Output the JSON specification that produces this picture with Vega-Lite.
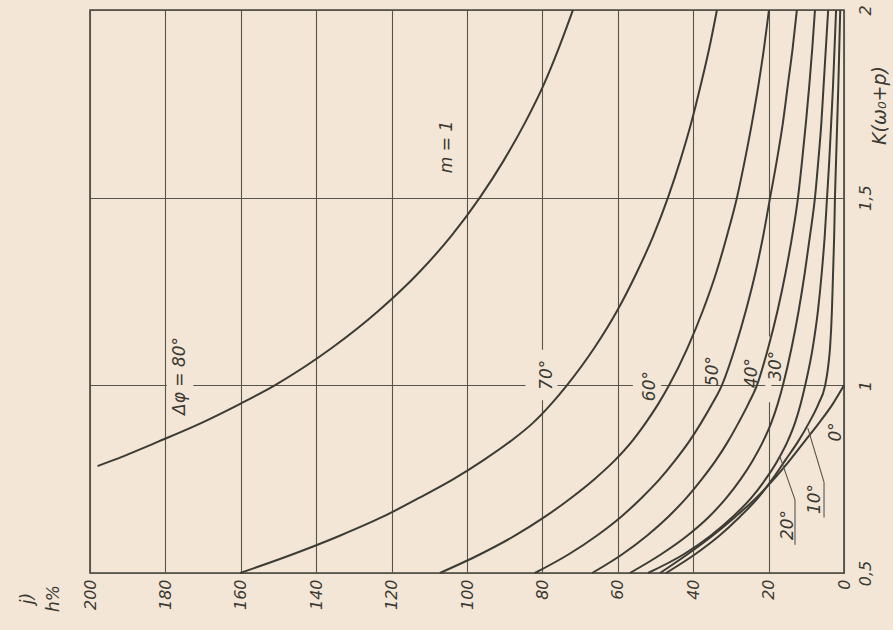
{
  "$schema": "https://vega.github.io/schema/vega-lite/v6.json",
  "width": 754,
  "height": 563,
  "autosize": {"type": "none"},
  "padding": {"left": 90, "top": 10, "right": 49, "bottom": 57},
  "background": "#f4e6d6",
  "config": {
    "view": {"stroke": "#44443c", "strokeWidth": 1.6},
    "font": "DejaVu Sans",
    "axis": {"gridColor": "#55554c", "gridWidth": 1.1, "gridOpacity": 1, "ticks": false, "domain": false, "labelFlush": false, "labelOverlap": false, "labelBound": false, "labelColor": "#3a3a33", "labelFontSize": 16, "labelFontStyle": "italic", "titleColor": "#3a3a33", "titleFontWeight": "normal", "titleFontStyle": "italic", "titleFontSize": 17}
  },
  "datasets": {
    "curves": [
      {"phi": 80, "K": 0.785, "h": 198}, {"phi": 80, "K": 0.8, "h": 194}, {"phi": 80, "K": 0.85, "h": 181.9}, {"phi": 80, "K": 0.9, "h": 170.4}, {"phi": 80, "K": 0.95, "h": 160.3}, {"phi": 80, "K": 1.0, "h": 151}, {"phi": 80, "K": 1.1, "h": 135.8}, {"phi": 80, "K": 1.2, "h": 123.3}, {"phi": 80, "K": 1.3, "h": 112.8}, {"phi": 80, "K": 1.4, "h": 104.0}, {"phi": 80, "K": 1.5, "h": 96.6}, {"phi": 80, "K": 1.6, "h": 90.2}, {"phi": 80, "K": 1.7, "h": 84.6}, {"phi": 80, "K": 1.8, "h": 79.7}, {"phi": 80, "K": 1.9, "h": 75.6}, {"phi": 80, "K": 2.0, "h": 71.9},
      {"phi": 70, "K": 0.5, "h": 160.2}, {"phi": 70, "K": 0.55, "h": 146.2}, {"phi": 70, "K": 0.6, "h": 133.6}, {"phi": 70, "K": 0.65, "h": 122.3}, {"phi": 70, "K": 0.7, "h": 112.7}, {"phi": 70, "K": 0.75, "h": 103.6}, {"phi": 70, "K": 0.8, "h": 95.7}, {"phi": 70, "K": 0.85, "h": 88.6}, {"phi": 70, "K": 0.9, "h": 82.5}, {"phi": 70, "K": 0.95, "h": 77.7}, {"phi": 70, "K": 1.0, "h": 73.5}, {"phi": 70, "K": 1.1, "h": 66.2}, {"phi": 70, "K": 1.2, "h": 60.1}, {"phi": 70, "K": 1.3, "h": 55.0}, {"phi": 70, "K": 1.4, "h": 50.5}, {"phi": 70, "K": 1.5, "h": 46.7}, {"phi": 70, "K": 1.6, "h": 43.4}, {"phi": 70, "K": 1.7, "h": 40.5}, {"phi": 70, "K": 1.8, "h": 38.0}, {"phi": 70, "K": 1.9, "h": 35.7}, {"phi": 70, "K": 2.0, "h": 33.7},
      {"phi": 60, "K": 0.5, "h": 107.2}, {"phi": 60, "K": 0.55, "h": 96.5}, {"phi": 60, "K": 0.6, "h": 87.2}, {"phi": 60, "K": 0.65, "h": 79.3}, {"phi": 60, "K": 0.7, "h": 72.4}, {"phi": 60, "K": 0.75, "h": 66.2}, {"phi": 60, "K": 0.8, "h": 60.8}, {"phi": 60, "K": 0.85, "h": 56.3}, {"phi": 60, "K": 0.9, "h": 52.6}, {"phi": 60, "K": 0.95, "h": 49.3}, {"phi": 60, "K": 1.0, "h": 46.4}, {"phi": 60, "K": 1.1, "h": 41.5}, {"phi": 60, "K": 1.2, "h": 37.4}, {"phi": 60, "K": 1.3, "h": 33.9}, {"phi": 60, "K": 1.4, "h": 31.0}, {"phi": 60, "K": 1.5, "h": 28.4}, {"phi": 60, "K": 1.6, "h": 26.3}, {"phi": 60, "K": 1.7, "h": 24.4}, {"phi": 60, "K": 1.8, "h": 22.7}, {"phi": 60, "K": 1.9, "h": 21.2}, {"phi": 60, "K": 2.0, "h": 19.9},
      {"phi": 50, "K": 0.5, "h": 82.0}, {"phi": 50, "K": 0.55, "h": 73.0}, {"phi": 50, "K": 0.6, "h": 65.5}, {"phi": 50, "K": 0.65, "h": 59.1}, {"phi": 50, "K": 0.7, "h": 53.7}, {"phi": 50, "K": 0.75, "h": 48.9}, {"phi": 50, "K": 0.8, "h": 44.8}, {"phi": 50, "K": 0.85, "h": 41.1}, {"phi": 50, "K": 0.9, "h": 37.9}, {"phi": 50, "K": 0.95, "h": 35.0}, {"phi": 50, "K": 1.0, "h": 32.4}, {"phi": 50, "K": 1.1, "h": 28.9}, {"phi": 50, "K": 1.2, "h": 26.0}, {"phi": 50, "K": 1.3, "h": 23.5}, {"phi": 50, "K": 1.4, "h": 21.4}, {"phi": 50, "K": 1.5, "h": 19.6}, {"phi": 50, "K": 1.6, "h": 17.8}, {"phi": 50, "K": 1.7, "h": 16.2}, {"phi": 50, "K": 1.8, "h": 14.9}, {"phi": 50, "K": 1.9, "h": 13.6}, {"phi": 50, "K": 2.0, "h": 12.5},
      {"phi": 40, "K": 0.5, "h": 66.8}, {"phi": 40, "K": 0.55, "h": 58.8}, {"phi": 40, "K": 0.6, "h": 52.2}, {"phi": 40, "K": 0.65, "h": 46.6}, {"phi": 40, "K": 0.7, "h": 41.8}, {"phi": 40, "K": 0.75, "h": 37.7}, {"phi": 40, "K": 0.8, "h": 34.0}, {"phi": 40, "K": 0.85, "h": 30.8}, {"phi": 40, "K": 0.9, "h": 28.0}, {"phi": 40, "K": 0.95, "h": 25.4}, {"phi": 40, "K": 1.0, "h": 23.1}, {"phi": 40, "K": 1.1, "h": 20.1}, {"phi": 40, "K": 1.2, "h": 17.6}, {"phi": 40, "K": 1.3, "h": 15.5}, {"phi": 40, "K": 1.4, "h": 13.7}, {"phi": 40, "K": 1.5, "h": 12.2}, {"phi": 40, "K": 1.6, "h": 11.1}, {"phi": 40, "K": 1.7, "h": 10.1}, {"phi": 40, "K": 1.8, "h": 9.2}, {"phi": 40, "K": 1.9, "h": 8.4}, {"phi": 40, "K": 2.0, "h": 7.7},
      {"phi": 30, "K": 0.5, "h": 56.8}, {"phi": 30, "K": 0.55, "h": 48.5}, {"phi": 30, "K": 0.6, "h": 41.5}, {"phi": 30, "K": 0.65, "h": 35.8}, {"phi": 30, "K": 0.7, "h": 31.2}, {"phi": 30, "K": 0.75, "h": 27.4}, {"phi": 30, "K": 0.8, "h": 24.2}, {"phi": 30, "K": 0.85, "h": 21.5}, {"phi": 30, "K": 0.9, "h": 19.3}, {"phi": 30, "K": 0.95, "h": 17.6}, {"phi": 30, "K": 1.0, "h": 16.2}, {"phi": 30, "K": 1.1, "h": 13.9}, {"phi": 30, "K": 1.2, "h": 12.0}, {"phi": 30, "K": 1.3, "h": 10.4}, {"phi": 30, "K": 1.4, "h": 9.0}, {"phi": 30, "K": 1.5, "h": 7.7}, {"phi": 30, "K": 1.6, "h": 6.8}, {"phi": 30, "K": 1.7, "h": 6.0}, {"phi": 30, "K": 1.8, "h": 5.4}, {"phi": 30, "K": 1.9, "h": 4.8}, {"phi": 30, "K": 2.0, "h": 4.2},
      {"phi": 20, "K": 0.5, "h": 52.0}, {"phi": 20, "K": 0.55, "h": 42.5}, {"phi": 20, "K": 0.6, "h": 35.3}, {"phi": 20, "K": 0.65, "h": 29.5}, {"phi": 20, "K": 0.7, "h": 24.6}, {"phi": 20, "K": 0.75, "h": 20.8}, {"phi": 20, "K": 0.8, "h": 17.6}, {"phi": 20, "K": 0.85, "h": 15.0}, {"phi": 20, "K": 0.9, "h": 13.0}, {"phi": 20, "K": 0.95, "h": 11.5}, {"phi": 20, "K": 1.0, "h": 10.3}, {"phi": 20, "K": 1.1, "h": 8.3}, {"phi": 20, "K": 1.2, "h": 6.9}, {"phi": 20, "K": 1.3, "h": 5.9}, {"phi": 20, "K": 1.4, "h": 5.1}, {"phi": 20, "K": 1.5, "h": 4.5}, {"phi": 20, "K": 1.6, "h": 3.9}, {"phi": 20, "K": 1.7, "h": 3.4}, {"phi": 20, "K": 1.8, "h": 2.9}, {"phi": 20, "K": 1.9, "h": 2.5}, {"phi": 20, "K": 2.0, "h": 2.1},
      {"phi": 10, "K": 0.5, "h": 47.2}, {"phi": 10, "K": 0.55, "h": 39.5}, {"phi": 10, "K": 0.6, "h": 33.0}, {"phi": 10, "K": 0.65, "h": 27.6}, {"phi": 10, "K": 0.7, "h": 22.8}, {"phi": 10, "K": 0.75, "h": 19.0}, {"phi": 10, "K": 0.8, "h": 15.6}, {"phi": 10, "K": 0.85, "h": 12.2}, {"phi": 10, "K": 0.9, "h": 9.3}, {"phi": 10, "K": 0.95, "h": 6.8}, {"phi": 10, "K": 1.0, "h": 5.0}, {"phi": 10, "K": 1.05, "h": 4.2}, {"phi": 10, "K": 1.1, "h": 3.7}, {"phi": 10, "K": 1.2, "h": 3.2}, {"phi": 10, "K": 1.3, "h": 2.9}, {"phi": 10, "K": 1.4, "h": 2.6}, {"phi": 10, "K": 1.5, "h": 2.4}, {"phi": 10, "K": 1.6, "h": 2.1}, {"phi": 10, "K": 1.7, "h": 1.8}, {"phi": 10, "K": 1.8, "h": 1.5}, {"phi": 10, "K": 1.9, "h": 1.25}, {"phi": 10, "K": 2.0, "h": 1.0},
      {"phi": 0, "K": 0.5, "h": 48.8}, {"phi": 0, "K": 0.55, "h": 41.5}, {"phi": 0, "K": 0.6, "h": 34.8}, {"phi": 0, "K": 0.65, "h": 28.8}, {"phi": 0, "K": 0.7, "h": 23.3}, {"phi": 0, "K": 0.75, "h": 18.6}, {"phi": 0, "K": 0.8, "h": 14.4}, {"phi": 0, "K": 0.85, "h": 10.5}, {"phi": 0, "K": 0.9, "h": 6.6}, {"phi": 0, "K": 0.95, "h": 3.0}, {"phi": 0, "K": 1.0, "h": 0}
    ],
    "masks": [
      {"h1": 172.6, "h2": 179.6, "k1": 0.96, "k2": 1.09},
      {"h1": 76, "h2": 84.5, "k1": 0.96, "k2": 1.095},
      {"h1": 48.5, "h2": 56, "k1": 0.97, "k2": 1.04},
      {"h1": 19.3, "h2": 20.9, "k1": 0.955, "k2": 1.13}
    ],
    "leaders": [
      {"h": 5.3, "K": 0.648, "h2": 5.3, "K2": 0.742},
      {"h": 5.3, "K": 0.742, "h2": 9.6, "K2": 0.886},
      {"h": 13.0, "K": 0.575, "h2": 13.0, "K2": 0.695},
      {"h": 13.0, "K": 0.695, "h2": 17.0, "K2": 0.81}
    ],
    "labels": [
      {"text": "Δφ = 80°", "h": 176.1, "K": 1.025},
      {"text": "70°", "h": 78.8, "K": 1.028},
      {"text": "60°", "h": 51.5, "K": 0.998},
      {"text": "50°", "h": 34.7, "K": 1.038},
      {"text": "40°", "h": 24.4, "K": 1.033},
      {"text": "30°", "h": 18.0, "K": 1.052},
      {"text": "20°", "h": 14.9, "K": 0.628},
      {"text": "10°", "h": 7.7, "K": 0.697},
      {"text": "0°", "h": 2.1, "K": 0.876},
      {"text": "m = 1", "h": 105.3, "K": 1.635}
    ]
  },
  "layer": [
    {
      "data": {"name": "masks"},
      "mark": {"type": "rect", "fill": "#f4e6d6", "stroke": null},
      "encoding": {
        "x": {"field": "h1", "type": "quantitative", "scale": {"domain": [0, 200], "reverse": true, "nice": false, "zero": false},
          "axis": {"values": [0, 20, 40, 60, 80, 100, 120, 140, 160, 180, 200], "grid": true, "labelAngle": 270, "labelAlign": "right", "labelBaseline": "middle", "labelPadding": 6,
            "title": ["j)", "h%"], "titleAngle": 270, "titleAlign": "center", "titleBaseline": "middle", "titleX": -63, "titleY": 25, "titleLineHeight": 26}},
        "x2": {"field": "h2"},
        "y": {"field": "k1", "type": "quantitative", "scale": {"domain": [0.5, 2], "nice": false, "zero": false},
          "axis": {"orient": "right", "values": [0.5, 1, 1.5, 2], "format": "~g", "labelExpr": "replace(datum.label, '.', ',')", "grid": true, "labelAngle": 270, "labelAlign": "center", "labelBaseline": "top", "labelPadding": 13,
            "title": "K(ω₀+p)", "titleAngle": 270, "titleAlign": "center", "titleBaseline": "middle", "titleX": 35, "titleY": 95, "titleFontSize": 19}},
        "y2": {"field": "k2"}
      }
    },
    {
      "data": {"name": "curves"},
      "mark": {"type": "line", "stroke": "#3c3c35", "strokeWidth": 2, "interpolate": "monotone"},
      "encoding": {
        "x": {"field": "h", "type": "quantitative"},
        "y": {"field": "K", "type": "quantitative"},
        "detail": {"field": "phi", "type": "nominal"},
        "order": {"field": "K", "type": "quantitative"}
      }
    },
    {
      "data": {"name": "leaders"},
      "mark": {"type": "rule", "stroke": "#55554c", "strokeWidth": 1.1},
      "encoding": {
        "x": {"field": "h", "type": "quantitative"},
        "y": {"field": "K", "type": "quantitative"},
        "x2": {"field": "h2"},
        "y2": {"field": "K2"}
      }
    },
    {
      "data": {"name": "labels"},
      "mark": {"type": "text", "angle": 270, "align": "center", "baseline": "middle", "fontSize": 17, "fontStyle": "italic", "fill": "#3a3a33"},
      "encoding": {
        "x": {"field": "h", "type": "quantitative"},
        "y": {"field": "K", "type": "quantitative"},
        "text": {"field": "text", "type": "nominal"}
      }
    }
  ]
}
